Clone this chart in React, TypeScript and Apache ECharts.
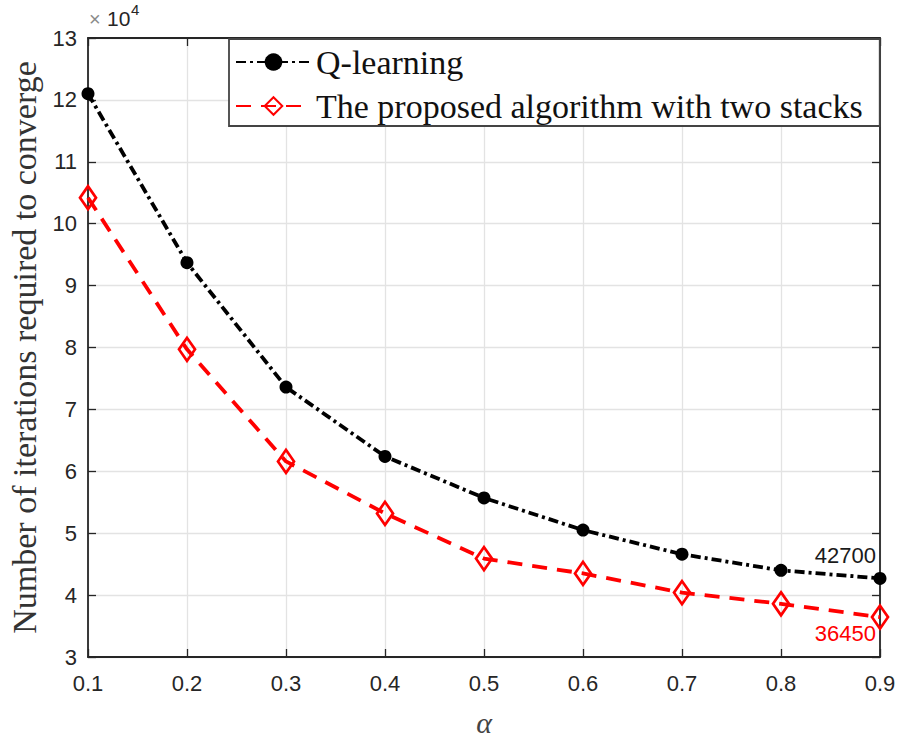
import React, { useEffect, useRef } from "react";
import * as echarts from "echarts";

const alphas = [0.1, 0.2, 0.3, 0.4, 0.5, 0.6, 0.7, 0.8, 0.9];
const qLearning = [121000, 93700, 73600, 62400, 55700, 50500, 46600, 44000, 42700];
const proposed = [104200, 79700, 61600, 53200, 45900, 43500, 40400, 38600, 36450];
const seriesNames = ["Q-learning", "The proposed algorithm with two stacks"];
const yLabelScale = 10000;

const AXIS_COLOR = "#262626";
const SANS = "Liberation Sans, Arial, sans-serif";
const SERIF = "Liberation Serif, Times New Roman, serif";

export default function App() {
  const ref = useRef<HTMLDivElement>(null);
  useEffect(() => {
    document.body.style.margin = "0";
    if (!ref.current) return;
    const chart = echarts.init(ref.current, null, { renderer: "svg" });
    const last = alphas.length - 1;
    const qData = alphas.map((a, i) =>
      i === last
        ? {
            value: [a, qLearning[i]],
            label: {
              show: true,
              position: "top",
              align: "right",
              offset: [-4, 0],
              formatter: String(qLearning[i]),
              color: "#1a1a1a",
              fontFamily: SANS,
              fontSize: 22,
            },
          }
        : [a, qLearning[i]]
    );
    const pData = alphas.map((a, i) =>
      i === last
        ? {
            value: [a, proposed[i]],
            label: {
              show: true,
              position: "bottom",
              align: "right",
              offset: [-4, -13],
              formatter: String(proposed[i]),
              color: "#ff0000",
              fontFamily: SANS,
              fontSize: 22,
            },
          }
        : [a, proposed[i]]
    );
    const tickLabel = {
      color: AXIS_COLOR,
      fontFamily: SANS,
      fontSize: 22,
    };
    const tick = { show: true, inside: true, length: 8, lineStyle: { color: AXIS_COLOR, width: 1.3 } };
    const line = { show: true, onZero: false, lineStyle: { color: AXIS_COLOR, width: 1.8 } };
    chart.setOption({
      animation: false,
      backgroundColor: "#fff",
      grid: {
        left: 88,
        right: 18,
        top: 38,
        bottom: 83,
        show: false,
        containLabel: false,
        outerBoundsMode: "none",
      },
      legend: {
        orient: "vertical",
        left: 229,
        top: 39,
        itemGap: 10,
        itemWidth: 75,
        itemHeight: 22,
        padding: [6, 17, 3, 6],
        backgroundColor: "#fff",
        borderColor: "#444",
        borderWidth: 1.8,
        borderRadius: 0,
        textStyle: {
          fontFamily: SERIF,
          fontSize: 34,
          color: "#111",
        },
        data: seriesNames,
      },
      graphic: [
        {
          type: "text",
          left: 89,
          top: 9,
          style: { text: "×", fontSize: 20, fill: "#8a8a8a", fontFamily: SANS },
        },
        {
          type: "text",
          left: 107,
          top: 8,
          style: { text: "10", fontSize: 21, fill: AXIS_COLOR, fontFamily: SANS },
        },
        {
          type: "text",
          left: 131,
          top: 2,
          style: { text: "4", fontSize: 15, fill: AXIS_COLOR, fontFamily: SANS },
        },
      ],
      xAxis: [
        {
          type: "value",
          min: 0.1,
          max: 0.9,
          interval: 0.1,
          name: "α",
          nameLocation: "middle",
          nameGap: 50,
          nameTextStyle: {
            fontFamily: SERIF,
            fontStyle: "italic",
            fontSize: 30,
            color: "#444",
          },
          axisLine: line,
          axisTick: tick,
          axisLabel: { ...tickLabel, margin: 15, formatter: (v: number) => v.toFixed(1) },
          splitLine: { show: true, lineStyle: { color: "#e3e3e3", width: 1.3 } },
        },
        {
          type: "value",
          position: "top",
          min: 0.1,
          max: 0.9,
          interval: 0.1,
          axisLine: line,
          axisTick: tick,
          axisLabel: { show: false },
          splitLine: { show: false },
        },
      ],
      yAxis: [
        {
          type: "value",
          min: 30000,
          max: 130000,
          interval: 10000,
          name: "Number of iterations required to converge",
          nameLocation: "middle",
          nameGap: 46,
          nameTextStyle: {
            fontFamily: SERIF,
            fontSize: 34,
            color: "#333",
          },
          axisLine: line,
          axisTick: tick,
          axisLabel: { ...tickLabel, margin: 11, formatter: (v: number) => String(Math.round(v / yLabelScale)) },
          splitLine: { show: true, lineStyle: { color: "#e3e3e3", width: 1.3 } },
        },
        {
          type: "value",
          position: "right",
          min: 30000,
          max: 130000,
          interval: 10000,
          axisLine: line,
          axisTick: tick,
          axisLabel: { show: false },
          splitLine: { show: false },
        },
      ],
      series: [
        {
          name: seriesNames[0],
          type: "line",
          data: qData,
          color: "#000",
          symbol: "circle",
          symbolSize: 13,
          lineStyle: { color: "#000", width: 3.8, type: [10, 4, 3, 4] },
          itemStyle: { color: "#000" },
          z: 3,
        },
        {
          name: seriesNames[1],
          type: "line",
          data: pData,
          color: "#ff0000",
          symbol: "diamond",
          symbolSize: [16, 23],
          lineStyle: { color: "#ff0000", width: 3.8, type: [15, 10] },
          itemStyle: { color: "rgba(255,255,255,0)", borderColor: "#ff0000", borderWidth: 2.8 },
          z: 2,
        },
      ],
    });
    return () => chart.dispose();
  }, []);
  return <div ref={ref} style={{ width: 898, height: 740 }} />;
}
